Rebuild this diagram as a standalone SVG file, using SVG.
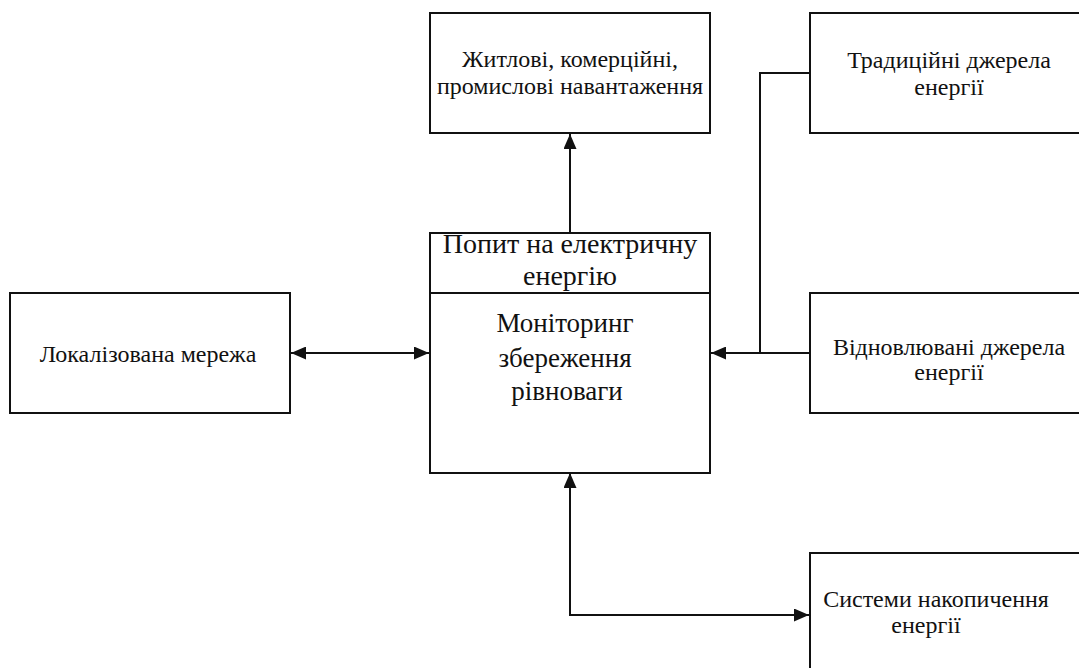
<svg xmlns="http://www.w3.org/2000/svg" width="1079" height="668" viewBox="0 0 1079 668">
  <style>
    .box { fill: #ffffff; stroke: #111111; stroke-width: 2; }
    .lbl { font-size: 24px; fill: #111111; text-anchor: middle; }
    .hdr { font-size: 28px; }
    .big { font-size: 27px; }
    .wire { fill: none; stroke: #111111; stroke-width: 2; }
  </style>
  <defs>
    <marker id="arrow" viewBox="0 0 15 13" refX="15" refY="6.5" markerWidth="15" markerHeight="13" markerUnits="userSpaceOnUse" orient="auto-start-reverse">
      <path d="M0,0 L15,6.5 L0,13 Z" fill="#111111"/>
    </marker>
  </defs>
  <rect width="1079" height="668" fill="#ffffff"/>

  <g id="connectors">
    <!-- demand block up to loads -->
    <line class="wire" x1="570" y1="233" x2="570" y2="134" marker-end="url(#arrow)"/>
    <!-- local grid <-> monitoring -->
    <line class="wire" x1="291" y1="353" x2="429" y2="353" marker-start="url(#arrow)" marker-end="url(#arrow)"/>
    <!-- renewable sources into monitoring -->
    <line class="wire" x1="810" y1="353" x2="711" y2="353" marker-end="url(#arrow)"/>
    <!-- traditional sources joining the renewable line -->
    <polyline class="wire" points="810,73 760,73 760,353"/>
    <!-- storage <-> monitoring -->
    <polyline class="wire" points="570,473 570,615 809,615" marker-start="url(#arrow)" marker-end="url(#arrow)"/>
  </g>

  <g font-family="'Liberation Serif', 'Times New Roman', 'DejaVu Serif', serif">
    <g id="loads">
      <rect class="box" x="430" y="13" width="280" height="120"/>
      <text class="lbl" x="570" y="67">Житлові, комерційні,</text>
      <text class="lbl" x="570" y="94">промислові навантаження</text>
    </g>

    <g id="traditional">
      <rect class="box" x="810" y="13" width="280" height="120"/>
      <text class="lbl" x="949" y="68">Традиційні джерела</text>
      <text class="lbl" x="949" y="95">енергії</text>
    </g>

    <g id="monitoring">
      <rect class="box" x="430" y="233" width="280" height="240"/>
      <line class="wire" x1="430" y1="293" x2="710" y2="293"/>
      <text class="lbl hdr" x="570" y="253">Попит на електричну</text>
      <text class="lbl hdr" x="570" y="285">енергію</text>
      <text class="lbl big" x="565" y="332">Моніторинг</text>
      <text class="lbl big" x="565" y="367">збереження</text>
      <text class="lbl big" x="567" y="400">рівноваги</text>
    </g>

    <g id="local-grid">
      <rect class="box" x="10" y="293" width="280" height="120"/>
      <text class="lbl" x="148" y="362">Локалізована мережа</text>
    </g>

    <g id="renewable">
      <rect class="box" x="810" y="293" width="280" height="120"/>
      <text class="lbl" x="949" y="355">Відновлювані джерела</text>
      <text class="lbl" x="949" y="380">енергії</text>
    </g>

    <g id="storage">
      <rect class="box" x="810" y="553" width="280" height="130"/>
      <text class="lbl" x="936" y="607">Системи накопичення</text>
      <text class="lbl" x="926" y="633">енергії</text>
    </g>
  </g>
</svg>
